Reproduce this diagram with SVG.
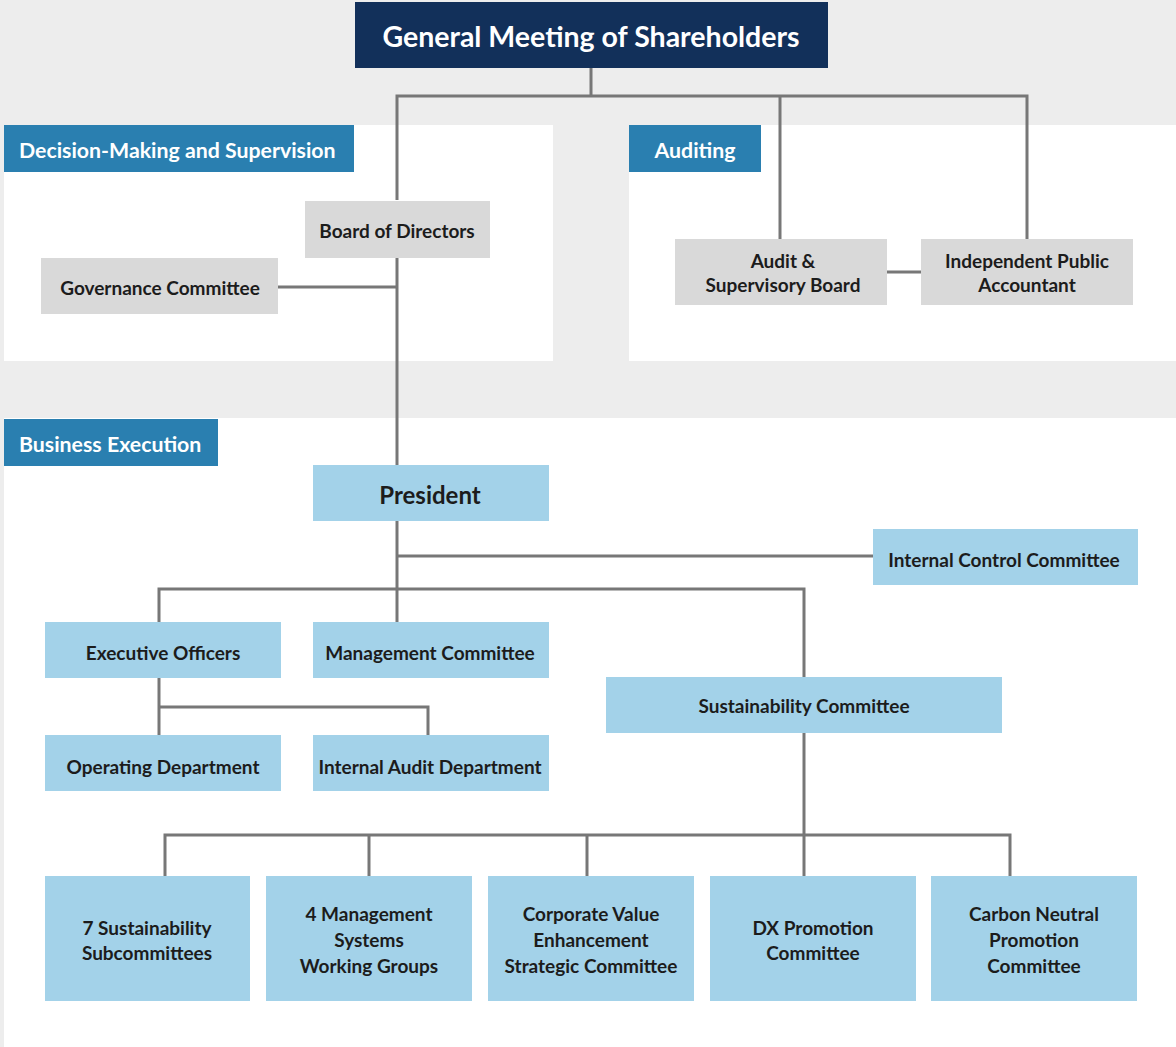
<svg xmlns="http://www.w3.org/2000/svg" width="1176" height="1047" viewBox="0 0 1176 1047">
<style>
.t{font-family:Lato,"Open Sans","Liberation Sans",sans-serif;font-weight:700;fill:#1c1c1c;text-anchor:middle;dominant-baseline:central}
.n{font-size:19px}
.lab{font-family:Lato,"Open Sans","Liberation Sans",sans-serif;font-weight:700;fill:#ffffff;font-size:21.3px;dominant-baseline:central}
.gray{fill:#d9d9d9}
.blue{fill:#a3d2e9}
.tag{fill:#2a7fb0}
.c{stroke:#777777;stroke-width:3;fill:none}
</style>
<rect x="0" y="0" width="1176" height="1047" fill="#ffffff"/>
<rect x="0" y="0" width="1176" height="418" fill="#ededed"/>
<rect x="0" y="418" width="4" height="629" fill="#ededed"/>
<rect x="4" y="125" width="549" height="236" fill="#ffffff"/>
<rect x="629" y="125" width="547" height="236" fill="#ffffff"/>

<g id="connectors">
<polyline class="c" points="591,68 591,96"/>
<polyline class="c" points="397,200 397,96 1027,96 1027,239"/>
<polyline class="c" points="780,96 780,239"/>
<polyline class="c" points="397,258 397,465"/>
<polyline class="c" points="278,287 397,287"/>
<polyline class="c" points="887,272 921,272"/>
<polyline class="c" points="397,521 397,622"/>
<polyline class="c" points="397,556 873,556"/>
<polyline class="c" points="159,622 159,589 804,589 804,677"/>
<polyline class="c" points="159,678 159,735"/>
<polyline class="c" points="159,707 428,707 428,735"/>
<polyline class="c" points="804,733 804,876"/>
<polyline class="c" points="165,876 165,835 1010,835 1010,876"/>
<polyline class="c" points="369,835 369,876"/>
<polyline class="c" points="587,835 587,876"/>
</g>

<g id="label-decision">
<rect class="tag" x="4" y="125" width="350" height="47"/>
<text class="lab" x="19" y="150">Decision-Making and Supervision</text>
</g>
<g id="label-auditing">
<rect class="tag" x="629" y="125" width="132" height="47"/>
<text class="lab" x="695" y="150" text-anchor="middle">Auditing</text>
</g>
<g id="label-business">
<rect class="tag" x="4" y="419" width="214" height="47"/>
<text class="lab" x="19" y="444">Business Execution</text>
</g>

<g id="gms">
<rect x="355" y="2" width="473" height="66" fill="#12305a"/>
<text class="t" x="591" y="36" style="fill:#ffffff;font-size:28.5px">General Meeting of Shareholders</text>
</g>
<g id="board">
<rect class="gray" x="305" y="201" width="185" height="57"/>
<text class="t n" x="397" y="230">Board of Directors</text>
</g>
<g id="governance">
<rect class="gray" x="41" y="258" width="237" height="56"/>
<text class="t n" x="160" y="287">Governance Committee</text>
</g>
<g id="audit-board">
<rect class="gray" x="675" y="239" width="212" height="66"/>
<text class="t n" x="783" y="260">Audit &amp;</text>
<text class="t n" x="783" y="284">Supervisory Board</text>
</g>
<g id="accountant">
<rect class="gray" x="921" y="239" width="212" height="66"/>
<text class="t n" x="1027" y="260">Independent Public</text>
<text class="t n" x="1027" y="284">Accountant</text>
</g>
<g id="president">
<rect class="blue" x="313" y="465" width="236" height="56"/>
<text class="t" x="430" y="494" style="font-size:24px">President</text>
</g>
<g id="internal-control">
<rect class="blue" x="873" y="529" width="265" height="56"/>
<text class="t n" x="1004" y="559">Internal Control Committee</text>
</g>
<g id="executive-officers">
<rect class="blue" x="45" y="622" width="236" height="56"/>
<text class="t n" x="163" y="652">Executive Officers</text>
</g>
<g id="management-committee">
<rect class="blue" x="313" y="622" width="236" height="56"/>
<text class="t n" x="430" y="652">Management Committee</text>
</g>
<g id="sustainability-committee">
<rect class="blue" x="606" y="677" width="396" height="56"/>
<text class="t n" x="804" y="705">Sustainability Committee</text>
</g>
<g id="operating-department">
<rect class="blue" x="45" y="735" width="236" height="56"/>
<text class="t n" x="163" y="766">Operating Department</text>
</g>
<g id="internal-audit">
<rect class="blue" x="313" y="735" width="236" height="56"/>
<text class="t n" x="430" y="766">Internal Audit Department</text>
</g>
<g id="subcommittees">
<rect class="blue" x="45" y="876" width="205" height="125"/>
<text class="t n" x="147" y="927">7 Sustainability</text>
<text class="t n" x="147" y="952">Subcommittees</text>
</g>
<g id="working-groups">
<rect class="blue" x="266" y="876" width="206" height="125"/>
<text class="t n" x="369" y="913">4 Management</text>
<text class="t n" x="369" y="939">Systems</text>
<text class="t n" x="369" y="965">Working Groups</text>
</g>
<g id="corporate-value">
<rect class="blue" x="488" y="876" width="206" height="125"/>
<text class="t n" x="591" y="913">Corporate Value</text>
<text class="t n" x="591" y="939">Enhancement</text>
<text class="t n" x="591" y="965">Strategic Committee</text>
</g>
<g id="dx-promotion">
<rect class="blue" x="710" y="876" width="206" height="125"/>
<text class="t n" x="813" y="927">DX Promotion</text>
<text class="t n" x="813" y="952">Committee</text>
</g>
<g id="carbon-neutral">
<rect class="blue" x="931" y="876" width="206" height="125"/>
<text class="t n" x="1034" y="913">Carbon Neutral</text>
<text class="t n" x="1034" y="939">Promotion</text>
<text class="t n" x="1034" y="965">Committee</text>
</g>
</svg>
